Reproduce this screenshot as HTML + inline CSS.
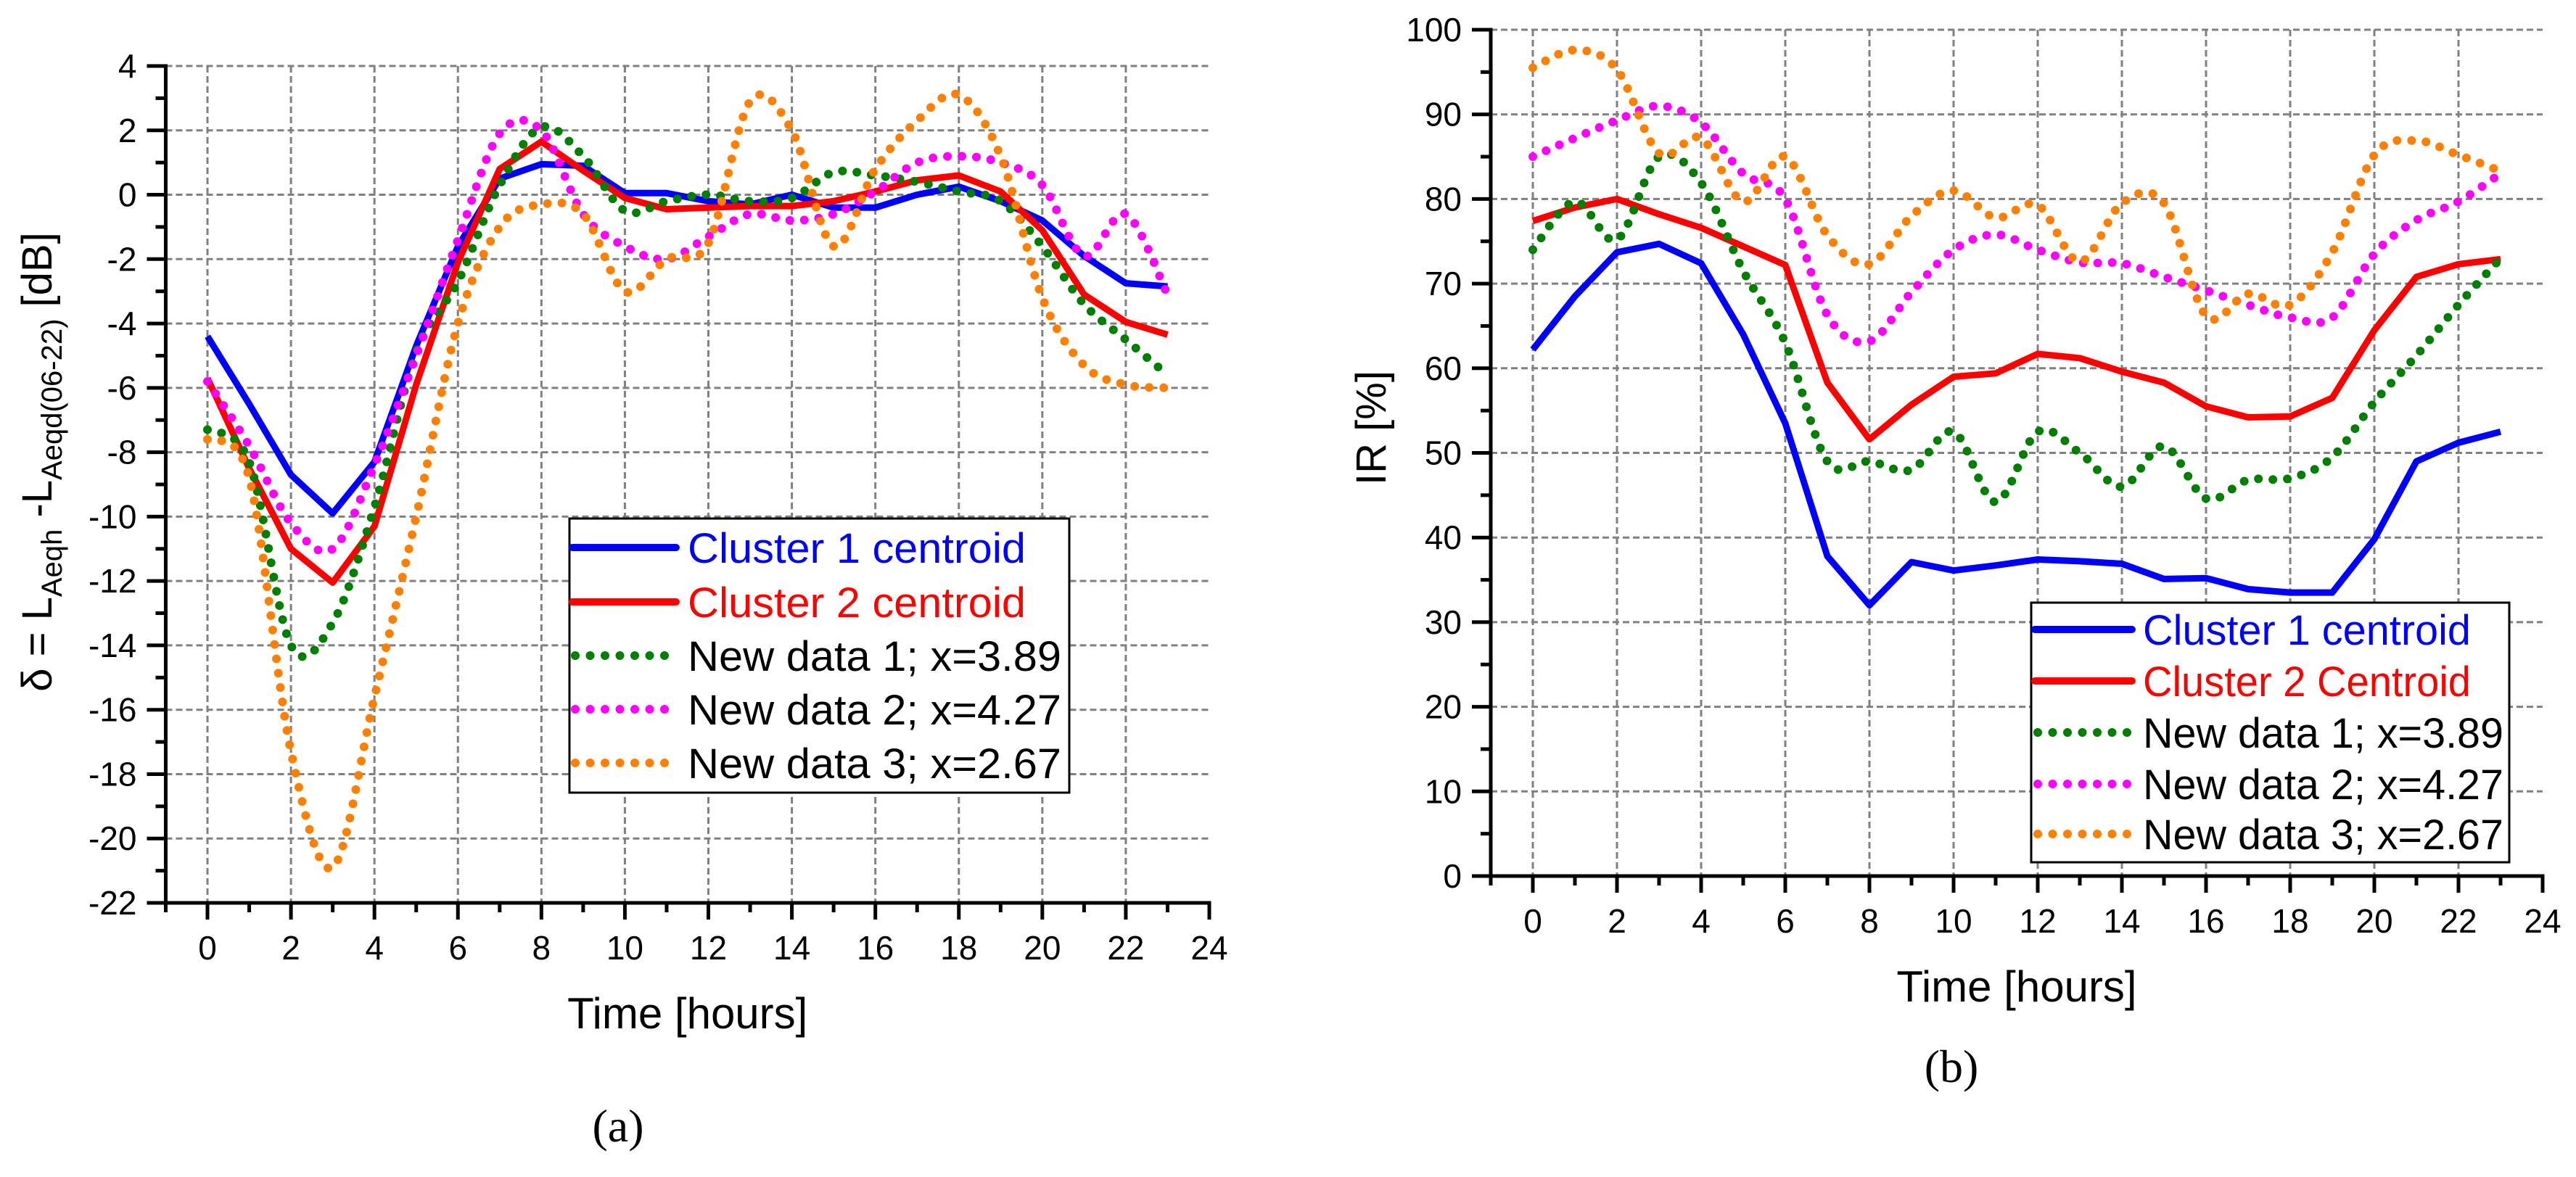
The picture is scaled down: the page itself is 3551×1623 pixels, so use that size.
<!DOCTYPE html>
<html><head><meta charset="utf-8"><style>
html,body{margin:0;padding:0;background:#fff;}
svg{display:block;font-family:"Liberation Sans",Arial,sans-serif;}
</style></head><body>
<svg id="fig" width="3551" height="1623" viewBox="0 0 3551 1623" xmlns="http://www.w3.org/2000/svg">
<rect width="3551" height="1623" fill="#fff"/>
<g id="chartA"></g>
<g id="chartB"></g>
</svg>
<script>
const hours = [0,1,2,3,4,5,6,7,8,9,10,11,12,13,14,15,16,17,18,19,20,21,22,23];
const aCluster1 = [-4.4,-6.5,-8.7,-9.9,-8.3,-4.7,-1.6,0.5,0.95,0.9,0.05,0.05,-0.2,-0.3,0.0,-0.4,-0.4,0.0,0.25,-0.2,-0.8,-1.9,-2.75,-2.85];
const aCluster2 = [-5.7,-8.5,-11.0,-12.05,-10.3,-5.9,-2.1,0.8,1.65,0.75,-0.1,-0.45,-0.4,-0.35,-0.35,-0.2,0.1,0.45,0.6,0.1,-1.1,-3.1,-3.95,-4.35];
const aNew1 = [-7.3,-8.3,-14.0,-13.3,-9.7,-4.9,-2.7,0.3,2.1,1.2,-0.5,-0.2,0.0,-0.2,-0.1,0.7,0.6,0.4,0.1,-0.2,-1.6,-3.4,-4.5,-5.6];
const aNew2 = [-5.8,-7.8,-10.2,-11.0,-8.4,-5.0,-1.4,1.9,2.0,-0.6,-1.6,-2.0,-1.3,-0.6,-0.8,-0.6,0.1,1.0,1.2,1.0,0.3,-1.9,-0.6,-3.1];
const aNew3 = [-7.6,-8.8,-17.3,-20.9,-15.6,-10.0,-4.0,-1.0,-0.3,-0.6,-3.0,-2.0,-1.5,2.9,2.0,-1.6,0.8,2.3,3.1,1.2,-3.2,-5.3,-5.9,-6.0];
const bCluster1 = [62.2,68.5,73.7,74.7,72.4,64,53.5,37.8,32,37.1,36.1,36.7,37.4,37.2,36.9,35.1,35.2,33.9,33.5,33.5,39.8,49,51.2,52.5];
const bCluster2 = [77.4,79,80,78.2,76.6,74.4,72.2,58.3,51.6,55.7,59.0,59.4,61.7,61.2,59.6,58.3,55.5,54.2,54.3,56.5,64.5,70.8,72.3,72.9];
const bNew1 = [74,79.7,75.2,85,81.9,71.5,63,49,49,48,52.5,44.2,52.5,50,46,50.8,44.6,46.8,47,49.5,56,61.5,67.5,73];
const bNew2 = [85,87.2,89.3,91,89,83,80,66.3,63.2,69,74,75.8,74,72.5,72.4,70.8,69.2,67.5,66,66,73.5,77.5,79.7,83];
const bNew3 = [95.5,97.6,95.3,85.4,87.2,79.7,85,75.7,72.3,78,81,77.8,79.3,72.6,79.5,79.5,66.2,68.8,67.5,73.7,85.2,86.9,85.2,83.3];
const xTickLabels = ["0","2","4","6","8","10","12","14","16","18","20","22","24"];
const aYTickLabels = ["4","2","0","-2","-4","-6","-8","-10","-12","-14","-16","-18","-20","-22"];
const bYTickLabels = ["100","90","80","70","60","50","40","30","20","10","0"];
const legendA = ["Cluster 1 centroid","Cluster 2 centroid","New data 1; x=3.89","New data 2; x=4.27","New data 3; x=2.67"];
const legendB = ["Cluster 1 centroid","Cluster 2 Centroid","New data 1; x=3.89","New data 2; x=4.27","New data 3; x=2.67"];

const NS="http://www.w3.org/2000/svg";
function mk(parent, tag, attrs, text){
  const e=document.createElementNS(NS,tag);
  for(const k in attrs) e.setAttribute(k,attrs[k]);
  if(text!==undefined) e.textContent=text;
  parent.appendChild(e); return e;
}
const COLORS=["#0000ff","#ff0000","#007f00","#ff00ff","#ff8000"];

function smoothPath(pts){
  let d="M"+pts[0][0]+","+pts[0][1];
  for(let i=0;i<pts.length-1;i++){
    const p0=pts[Math.max(0,i-1)],p1=pts[i],p2=pts[i+1],p3=pts[Math.min(pts.length-1,i+2)];
    const c1x=p1[0]+(p2[0]-p0[0])/6,c1y=p1[1]+(p2[1]-p0[1])/6;
    const c2x=p2[0]-(p3[0]-p1[0])/6,c2y=p2[1]-(p3[1]-p1[1])/6;
    d+=" C"+c1x.toFixed(1)+","+c1y.toFixed(1)+" "+c2x.toFixed(1)+","+c2y.toFixed(1)+" "+p2[0].toFixed(1)+","+p2[1].toFixed(1);
  }
  return d;
}

function drawChart(g, cfg){
  const X=v=>cfg.x0+(v-0)*(cfg.x24-cfg.x0)/24;
  const Y=v=>cfg.yTop+(cfg.yMax-v)*(cfg.yBot-cfg.yTop)/(cfg.yMax-cfg.yMin);
  const left=X(-1), right=X(24), top=Y(cfg.yMax), bot=Y(cfg.yMin);
  // grid
  const grid=mk(g,"g",{stroke:"#808080","stroke-width":3,"stroke-dasharray":"9 5"});
  
  
  for(let i=0;i<xTickLabels.length-1;i++){
    const v=+xTickLabels[i];
    mk(grid,"line",{x1:X(v),x2:X(v),y1:top,y2:bot});
  }
  cfg.yLabels.forEach(s=>{const v=+s; if(v!==cfg.yMin) mk(grid,"line",{x1:left,x2:right,y1:Y(v),y2:Y(v)});});
  // series
  cfg.series.forEach((arr,si)=>{
    const pts=hours.map((h,i)=>[X(h),Y(arr[i])]);
    let p;
    if(si<2){
      p=mk(g,"path",{d:"M"+pts.map(q=>q[0].toFixed(1)+","+q[1].toFixed(1)).join(" L"),fill:"none",stroke:COLORS[si],"stroke-width":9,"stroke-linejoin":"round"});
    } else {
      p=mk(g,"path",{d:smoothPath(pts),fill:"none",stroke:COLORS[si],"stroke-width":12,"stroke-linecap":"round","stroke-dasharray":"0 20"});
    }
    
    
  });
  // axes
  const ax=mk(g,"g",{stroke:"#000","stroke-width":5,"stroke-linecap":"square"});
  
  
  mk(ax,"line",{x1:left,x2:left,y1:top,y2:bot});
  mk(ax,"line",{x1:left,x2:right,y1:bot,y2:bot});
  for(let h=-1;h<=24;h++){
    const major=(h%2===0);
    mk(ax,"line",{x1:X(h),x2:X(h),y1:bot,y2:bot+(major?23:13),"stroke-linecap":"butt"});
  }
  const yStep=+cfg.yLabels[0]-(+cfg.yLabels[1]);
  for(let v=cfg.yMin;v<=cfg.yMax+1e-9;v+=yStep/2){
    const major=Math.abs((v-cfg.yMin)/yStep-Math.round((v-cfg.yMin)/yStep))<1e-6;
    mk(ax,"line",{x1:left,x2:left-(major?26:14),y1:Y(v),y2:Y(v),"stroke-linecap":"butt"});
  }
  xTickLabels.forEach(s=>{
    const t=mk(g,"text",{x:X(+s),y:bot+78,"font-size":46,"text-anchor":"middle"},s);
    
    
  });
  cfg.yLabels.forEach(s=>{
    const t=mk(g,"text",{x:left-40,y:Y(+s)+16,"font-size":46,"text-anchor":"end"},s);
    
    
  });
  const xt=mk(g,"text",{x:(left+right)/2,y:bot+173,"font-size":60,"text-anchor":"middle"},"Time [hours]");
  
  
  const cap=mk(g,"text",{x:cfg.capX,y:cfg.capY,"font-size":64,"text-anchor":"middle","font-family":"Liberation Serif, serif"},cfg.caption);
  
  
  // legend
  const L=cfg.legend;
  const lg=mk(g,"g",{});
  
  
  mk(lg,"rect",{x:L.x,y:L.y,width:L.w,height:L.h,fill:"#fff",stroke:"#000","stroke-width":3});
  cfg.legendText.forEach((s,i)=>{
    const cy=L.rows[i];
    const e=mk(lg,"g",{});
    
    
    if(i<2) mk(e,"line",{x1:L.sx1,x2:L.sx2,y1:cy,y2:cy,stroke:COLORS[i],"stroke-width":10,"stroke-linecap":"round"});
    else mk(e,"line",{x1:L.sx1+4,x2:L.sx2,y1:cy,y2:cy,stroke:COLORS[i],"stroke-width":12,"stroke-linecap":"round","stroke-dasharray":"0 20.5"});
    const tl=i<2?L.tw1:L.tw2;
    mk(e,"text",{x:L.tx,y:cy+21,"font-size":58,fill:i<2?COLORS[i]:"#000",textLength:tl,lengthAdjust:"spacingAndGlyphs"},s);
  });
}

drawChart(document.getElementById("chartA"),{
  x0:286,x24:1667,yTop:91,yBot:1245,yMax:4,yMin:-22,yLabels:aYTickLabels,
  series:[aCluster1,aCluster2,aNew1,aNew2,aNew3],
  caption:"(a)",capX:852,capY:1574,
  legendText:legendA,
  legend:{x:785,y:715,w:689,h:378,rows:[755,830,904,978,1052],sx1:789,sx2:932,tx:948,tw1:466,tw2:515}
});
drawChart(document.getElementById("chartB"),{
  x0:2113,x24:3505,yTop:41,yBot:1208,yMax:100,yMin:0,yLabels:bYTickLabels,
  series:[bCluster1,bCluster2,bNew1,bNew2,bNew3],
  caption:"(b)",capX:2690,capY:1492,
  legendText:legendB,
  legend:{x:2800,y:831,w:659,h:358,rows:[868,939,1010,1081,1150],sx1:2805,sx2:2939,tx:2954,tw1:452,tw2:497}
});

// y-axis titles
const svg=document.getElementById("fig");
const ya=mk(svg,"text",{transform:"translate(71,637) rotate(-90)","text-anchor":"middle","font-size":58});


mk(ya,"tspan",{},"δ = L");
mk(ya,"tspan",{"font-size":40,dy:14},"Aeqh");
mk(ya,"tspan",{dy:-14},"  -L");
mk(ya,"tspan",{"font-size":40,dy:14},"Aeqd(06-22)");
mk(ya,"tspan",{dy:-14}," [dB]");
const yb=mk(svg,"text",{transform:"translate(1910,590) rotate(-90)","text-anchor":"middle","font-size":58},"IR [%]");


</script>
</body></html>
